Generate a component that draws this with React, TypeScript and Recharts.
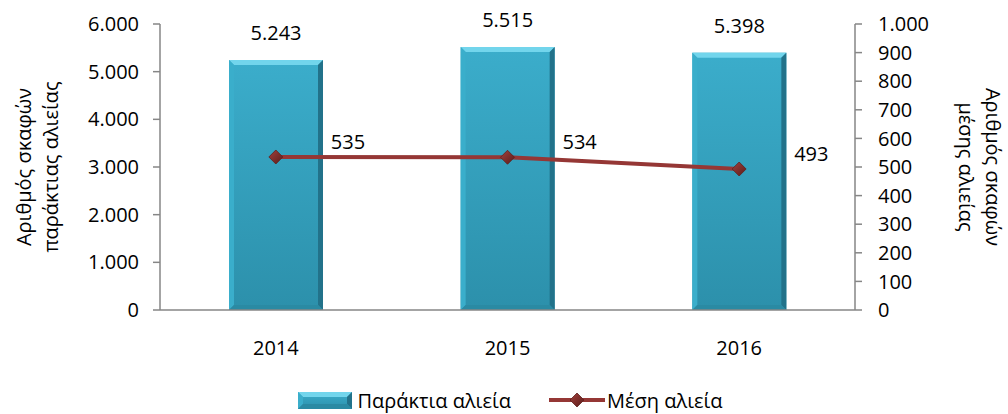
import {
  ComposedChart,
  Bar,
  Line,
  XAxis,
  YAxis,
  Legend,
  LabelList,
} from 'recharts';

// ─── Data ─────────────────────────────────────────────────────────────────────

const years = ['2014', '2015', '2016'];
const coastalVessels = [5243, 5515, 5398];
const midVessels = [535, 534, 493];
const leftTicks = [0, 1000, 2000, 3000, 4000, 5000, 6000];
const rightTicks = [0, 100, 200, 300, 400, 500, 600, 700, 800, 900, 1000];

const BAR_NAME = 'Παράκτια αλιεία';
const LINE_NAME = 'Μέση αλιεία';
const LEFT_TITLE = ['Αριθμός σκαφών', 'παράκτιας αλιείας'];
const RIGHT_TITLE = ['Αριθμός σκαφών', 'μέσης αλιείας'];

const chartData = years.map((year, i) => ({
  year,
  coastal: coastalVessels[i],
  mid: midVessels[i],
}));

const FONT = '"Open Sans", "Noto Sans", sans-serif';
const AXIS_GREY = '#868686';
const LINE_RED = '#953735';
const fmt = (v: number) => v.toLocaleString('de-DE');

// ─── Shapes ───────────────────────────────────────────────────────────────────

function BevelBar(props: any) {
  const { x, y, width: w, height: h } = props;
  if (!h || h <= 0) return null;
  const b = 5;
  return (
    <g>
      <rect x={x} y={y} width={w} height={h} fill="url(#barBody)" />
      <polygon points={`${x},${y} ${x + w},${y} ${x + w - b},${y + b} ${x + b},${y + b}`} fill="#72d5ec" />
      <polygon points={`${x},${y} ${x + b},${y + b} ${x + b},${y + h - b} ${x},${y + h}`} fill="#3aaecb" />
      <polygon points={`${x + w},${y} ${x + w - b},${y + b} ${x + w - b},${y + h - b} ${x + w},${y + h}`} fill="#22728a" />
      <polygon points={`${x},${y + h} ${x + b},${y + h - b} ${x + w - b},${y + h - b} ${x + w},${y + h}`} fill="#2a8aa3" />
    </g>
  );
}

function Diamond({ cx, cy, r = 7 }: any) {
  if (cx == null || cy == null) return null;
  return (
    <polygon
      points={`${cx},${cy - r} ${cx + r},${cy} ${cx},${cy + r} ${cx - r},${cy}`}
      fill="url(#diamondFill)"
      stroke="#5e1f1d"
      strokeWidth={0.8}
    />
  );
}

function LineLabel(props: any) {
  const { x, y, value } = props;
  return (
    <text x={x + 55} y={y - 8} fontSize={20} fontFamily={FONT} fill="#000" textAnchor="start">
      {value}
    </text>
  );
}

function AxisTitle({ lines, baselines, cy, angle }: { lines: string[]; baselines: number[]; cy: number; angle: number }) {
  return (
    <g>
      {lines.map((t, i) => (
        <text
          key={t}
          x={0}
          y={0}
          transform={`translate(${baselines[i]},${cy}) rotate(${angle})`}
          textAnchor="middle"
          fontSize={20}
          fontFamily={FONT}
          fill="#000"
        >
          {t}
        </text>
      ))}
    </g>
  );
}

// ─── Legend ───────────────────────────────────────────────────────────────────

function ChartLegend() {
  return (
    <div
      style={{
        height: 28,
        display: 'flex',
        justifyContent: 'center',
        alignItems: 'center',
        fontFamily: FONT,
        fontSize: 20,
        color: '#000',
        gap: 38,
        paddingLeft: 12,
      }}
    >
      <span style={{ display: 'flex', alignItems: 'center', gap: 6 }}>
        <svg width={54} height={17}>
          <BevelBar x={0} y={0} width={54} height={17} />
        </svg>
        {BAR_NAME}
      </span>
      <span style={{ display: 'flex', alignItems: 'center', gap: 2 }}>
        <svg width={56} height={18}>
          <line x1={0} y1={9} x2={56} y2={9} stroke={LINE_RED} strokeWidth={4} />
          <Diamond cx={28} cy={9} r={7} />
        </svg>
        {LINE_NAME}
      </span>
    </div>
  );
}

// ─── Chart ────────────────────────────────────────────────────────────────────

export default function App() {
  return (
    <div style={{ position: 'absolute', left: 0, top: 0, width: 1008, height: 414, background: '#fff' }}>
      <ComposedChart
        width={1008}
        height={414}
        data={chartData}
        margin={{ top: 24, right: 0, bottom: 0, left: 0 }}
      >
        <defs>
          <linearGradient id="barBody" x1="0" y1="0" x2="0" y2="1">
            <stop offset="0%" stopColor="#3badcb" />
            <stop offset="100%" stopColor="#2c90ab" />
          </linearGradient>
          <linearGradient id="diamondFill" x1="0" y1="0" x2="1" y2="1">
            <stop offset="0%" stopColor="#a3403c" />
            <stop offset="100%" stopColor="#5a1c1a" />
          </linearGradient>
        </defs>
        <XAxis
          dataKey="year"
          height={76}
          axisLine={{ stroke: AXIS_GREY, strokeWidth: 1.5 }}
          tickLine={false}
          tickSize={0}
          tickMargin={31}
          tick={{ fontSize: 20, fontFamily: FONT, fill: '#000' }}
        />
        <YAxis
          yAxisId="left"
          width={160}
          domain={[0, 6000]}
          ticks={leftTicks}
          interval={0}
          tickFormatter={fmt}
          axisLine={{ stroke: AXIS_GREY, strokeWidth: 1.5 }}
          tickLine={{ stroke: AXIS_GREY, strokeWidth: 1.5 }}
          tickSize={7}
          tickMargin={14}
          tick={{ fontSize: 20, fontFamily: FONT, fill: '#000' }}
          label={() => <AxisTitle lines={LEFT_TITLE} baselines={[31, 58]} cy={167} angle={-90} />}
        />
        <YAxis
          yAxisId="right"
          orientation="right"
          width={153}
          domain={[0, 1000]}
          ticks={rightTicks}
          interval={0}
          tickFormatter={fmt}
          axisLine={{ stroke: AXIS_GREY, strokeWidth: 1.5 }}
          tickLine={{ stroke: AXIS_GREY, strokeWidth: 1.5 }}
          tickSize={7}
          tickMargin={16}
          tick={{ fontSize: 20, fontFamily: FONT, fill: '#000' }}
          label={() => <AxisTitle lines={RIGHT_TITLE} baselines={[986, 959]} cy={167} angle={90} />}
        />
        <Legend verticalAlign="bottom" height={28} content={() => <ChartLegend />} />
        <Bar
          yAxisId="left"
          dataKey="coastal"
          name={BAR_NAME}
          barSize={94}
          shape={<BevelBar />}
          isAnimationActive={false}
        >
          <LabelList
            dataKey="coastal"
            position="top"
            offset={20}
            formatter={(v: any) => fmt(Number(v))}
            style={{ fontSize: 20, fontFamily: FONT, fill: '#000' }}
          />
        </Bar>
        <Line
          yAxisId="right"
          type="linear"
          dataKey="mid"
          name={LINE_NAME}
          stroke={LINE_RED}
          strokeWidth={4}
          dot={(p: any) => <Diamond key={p.index} cx={p.cx} cy={p.cy} r={7} />}
          activeDot={false}
          isAnimationActive={false}
        >
          <LabelList dataKey="mid" content={<LineLabel />} />
        </Line>
      </ComposedChart>
    </div>
  );
}
